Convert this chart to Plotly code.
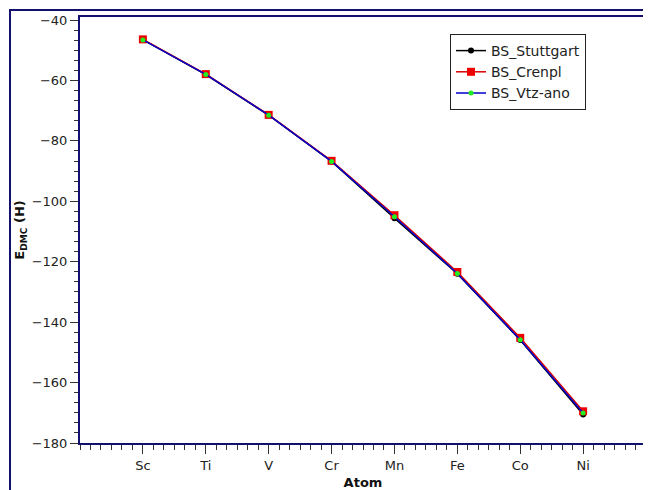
import plotly.graph_objects as go

atoms = ["Sc", "Ti", "V", "Cr", "Mn", "Fe", "Co", "Ni"]
stuttgart = [-46.5, -58.1, -71.5, -86.8, -105.6, -124.0, -145.9, -170.6]
crenpl = [-46.4, -57.9, -71.4, -86.6, -104.6, -123.4, -145.2, -169.5]
vtz_ano = [-46.6, -58.0, -71.5, -86.8, -105.1, -123.9, -145.8, -170.1]
y_ticks = [-180, -160, -140, -120, -100, -80, -60, -40]

xpos = list(range(len(atoms)))
navy = "#12126e"
font = "DejaVu Sans"

# page body margin offset (8px) compensated: plot area at screen x 80..646, y 17..443
OFF = 8
L, R, T, B = 80 - OFF, 646 - OFF, 17 - OFF, 443 - OFF
W, H = 651 - OFF, 490 - OFF
PW, PH = R - L, B - T

fig = go.Figure()
fig.add_trace(go.Scatter(x=xpos, y=stuttgart, name="BS_Stuttgart", mode="lines+markers",
                         line=dict(color="black", width=1.5),
                         marker=dict(symbol="circle", size=6, color="black")))
fig.add_trace(go.Scatter(x=xpos, y=crenpl, name="BS_Crenpl", mode="lines+markers",
                         line=dict(color="#dd0000", width=1.5),
                         marker=dict(symbol="square", size=8, color="#ee0000")))
fig.add_trace(go.Scatter(x=xpos, y=vtz_ano, name="BS_Vtz-ano", mode="lines+markers",
                         line=dict(color="#0000cc", width=1.5),
                         marker=dict(symbol="circle", size=5, color="#22ee22")))

fig.update_layout(
    width=W, height=H,
    margin=dict(l=L, r=W - R, t=T, b=H - B, autoexpand=False),
    paper_bgcolor="white", plot_bgcolor="white",
    font=dict(family=font, size=13, color="#222"),
    showlegend=True,
    legend=dict(x=(450 - 80) / PW, y=(443 - 34) / PH, xanchor="left", yanchor="top",
                bordercolor="#222", borderwidth=1, bgcolor="white",
                font=dict(family=font, size=14, color="#222"),
                tracegroupgap=0, itemsizing="trace"),
    xaxis=dict(range=[-1, 8], tickvals=xpos, ticktext=atoms, automargin=False,
               showgrid=False, zeroline=False,
               showline=True, mirror=True, linecolor=navy, linewidth=2,
               ticks="outside", ticklen=9, tickcolor="#333", tickwidth=1,
               minor=dict(dtick=1/6, tick0=-1, ticks="outside", ticklen=5, tickcolor="#333", showgrid=False),
               title=dict(text="<b>Atom</b>", font=dict(family=font, size=13, color="#111"), standoff=7),
               tickfont=dict(family=font, size=13, color="#222")),
    yaxis=dict(range=[-180, -39], tickvals=y_ticks, ticktext=[f"\u2212{abs(v)}" for v in y_ticks],
               automargin=False,
               showgrid=False, zeroline=False,
               showline=True, mirror=True, linecolor=navy, linewidth=2,
               ticks="outside", ticklen=8, tickcolor="#333", tickwidth=1,
               minor=dict(dtick=20/6, tick0=-40, ticks="outside", ticklen=4, tickcolor="#333", showgrid=False),
               title=dict(text="<b>E<sub>DMC</sub> (H)</b>", font=dict(family=font, size=13, color="#111"), standoff=4),
               tickfont=dict(family=font, size=13, color="#222")),
)

# outer frame (screen x=10, y=10)
fig.add_shape(type="rect", xref="paper", yref="paper",
              x0=(10 - 80) / PW, x1=1.3, y0=-0.3, y1=(443 - 10) / PH,
              line=dict(color=navy, width=2), fillcolor="rgba(0,0,0,0)", layer="below")

fig.write_html("out.html")
